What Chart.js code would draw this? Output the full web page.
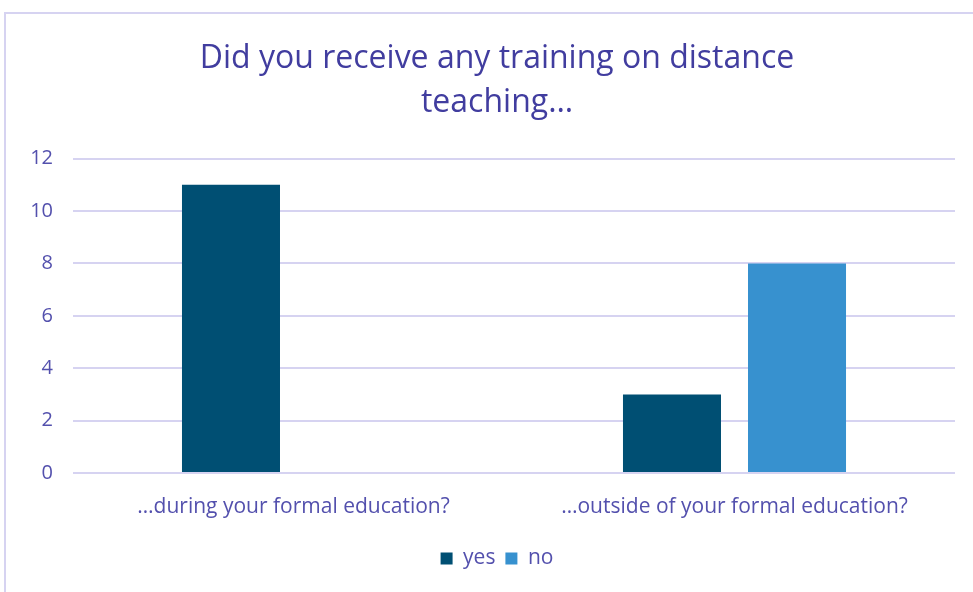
<!DOCTYPE html>
<html>
<head>
<meta charset="utf-8">
<script src="https://cdn.jsdelivr.net/npm/chart.js"></script>
<style>
html,body{margin:0;padding:0;background:#fff;overflow:hidden;}
#outer{position:relative;width:973px;height:592px;overflow:hidden;}
#wrap{position:absolute;left:0;top:0;width:994px;height:592px;}
#frame{position:absolute;left:4px;top:12px;width:1000px;height:620px;border:2px solid #d6d3f1;box-sizing:border-box;pointer-events:none;}
canvas{position:absolute;left:0;top:0;}
</style>
</head>
<body>
<div id="outer">
<div id="wrap">
<canvas id="c" width="994" height="592"></canvas>
</div>
<div id="frame"></div>
</div>
<script>
const categories = ["…during your formal education?", "…outside of your formal education?"];
const seriesNames = ["yes", "no"];
const yesValues = [11, 3];
const noValues = [0, 8];
const yTicks = [0, 2, 4, 6, 8, 10, 12];

const FONT = "'Open Sans', Lato, sans-serif";
const textColor = "#5350ad";

new Chart(document.getElementById('c'), {
  type: 'bar',
  data: {
    labels: categories,
    datasets: [
      { label: seriesNames[0], data: yesValues, backgroundColor: '#004f73' },
      { label: seriesNames[1], data: noValues, backgroundColor: '#3791cf' }
    ]
  },
  options: {
    responsive: false,
    animation: false,
    devicePixelRatio: 1,
    categoryPercentage: 0.567,
    barPercentage: 0.784,
    layout: { padding: { left: 0, right: 0, top: 0, bottom: 13 } },
    plugins: {
      title: {
        display: true,
        text: ["Did you receive any training on distance", "teaching…"],
        color: '#413d9f',
        font: { family: FONT, size: 32, weight: 'normal', lineHeight: 1.4 },
        padding: { top: 36, bottom: 33 }
      },
      legend: {
        position: 'bottom',
        labels: {
          color: textColor,
          font: { family: FONT, size: 21 },
          boxWidth: 12,
          boxHeight: 12,
          padding: 10
        }
      },
      tooltip: { enabled: false }
    },
    scales: {
      x: {
        grid: { display: false, drawTicks: false },
        border: { display: false },
        ticks: { color: textColor, font: { family: FONT, size: 21 }, padding: 21, maxRotation: 0 },
        afterFit: s => { s.height = 65; }
      },
      y: {
        min: 0,
        max: 12,
        afterBuildTicks: s => { s.ticks = yTicks.map(v => ({ value: v })); },
        grid: { color: '#d6d3f1', lineWidth: 2, drawTicks: false },
        border: { display: false },
        ticks: { color: textColor, font: { family: FONT, size: 20 }, padding: 20 },
        afterFit: s => { s.width = 73; }
      },
      ySpacer: {
        position: 'right',
        display: true,
        min: 0,
        max: 12,
        grid: { display: false, drawTicks: false },
        border: { display: false },
        ticks: { display: false },
        afterFit: s => { s.width = 39; }
      }
    }
  }
});
</script>
</body>
</html>
